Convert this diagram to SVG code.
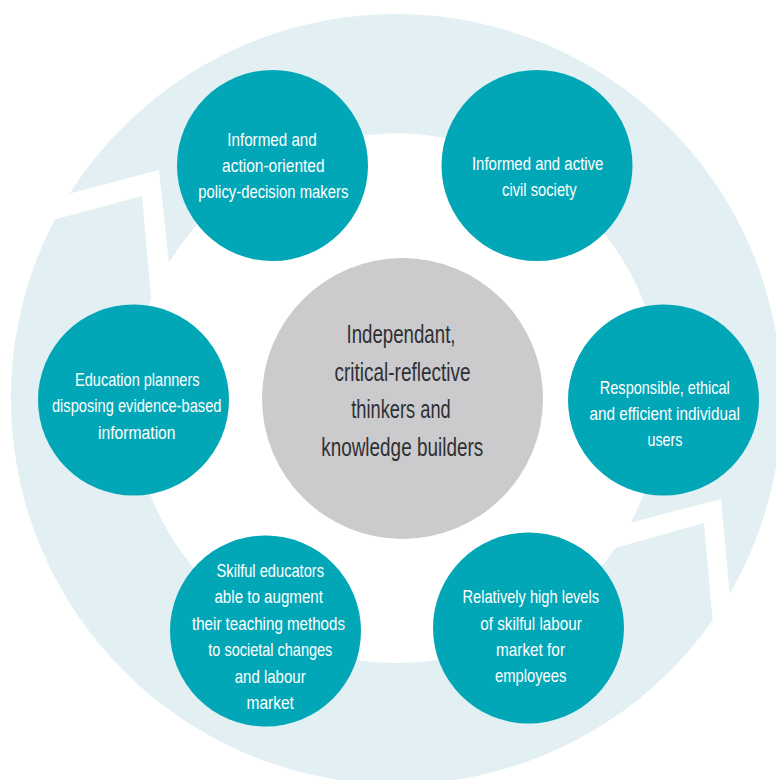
<svg xmlns="http://www.w3.org/2000/svg" width="776" height="780" viewBox="0 0 776 780">
  <style>
    .ring { fill: #e2eff3; }
    .node { fill: #02a7b7; }
    .hub { fill: #cbcbcd; }
    .nt { font-family: "Liberation Sans", Arial, sans-serif; font-size: 19px; fill: #ffffff; text-anchor: middle; }
    .ct { font-family: "Liberation Sans", Arial, sans-serif; font-size: 26px; fill: #2f3033; text-anchor: middle; }
  </style>
  <rect width="776" height="780" fill="#ffffff"/>
  <g id="connectors">
    <path class="ring" d="M 69.7,193.5 A 386 386 0 0 1 729.7,593.7 L 721,499 L 631,522.4 A 265 265 0 0 0 169,263 L 159,170 Z"/>
    <path class="ring" d="M 712.6,620.3 A 386 386 0 0 1 54.8,219.4 L 142,196 L 151.1,299.2 A 265 265 0 0 0 615.6,547.8 L 704,523 Z"/>
  </g>
  <g id="hub">
    <circle class="hub" cx="402.5" cy="398.5" r="140.5"/>
    <text class="ct" x="401" y="343" textLength="109" lengthAdjust="spacingAndGlyphs">Independant,</text>
    <text class="ct" x="402.5" y="380.5" textLength="136" lengthAdjust="spacingAndGlyphs">critical-reflective</text>
    <text class="ct" x="401" y="418" textLength="99.5" lengthAdjust="spacingAndGlyphs">thinkers and</text>
    <text class="ct" x="402.2" y="455.5" textLength="162" lengthAdjust="spacingAndGlyphs">knowledge builders</text>
  </g>
  <g id="node-policy">
    <circle class="node" cx="272.5" cy="165.5" r="95.5"/>
    <text class="nt" x="272" y="146" textLength="89.5" lengthAdjust="spacingAndGlyphs">Informed and</text>
    <text class="nt" x="273.3" y="172" textLength="102.5" lengthAdjust="spacingAndGlyphs">action-oriented</text>
    <text class="nt" x="273.3" y="198" textLength="150" lengthAdjust="spacingAndGlyphs">policy-decision makers</text>
  </g>
  <g id="node-civil">
    <circle class="node" cx="537" cy="165.5" r="95.5"/>
    <text class="nt" x="537.7" y="169.5" textLength="131.5" lengthAdjust="spacingAndGlyphs">Informed and active</text>
    <text class="nt" x="539.3" y="196" textLength="74.5" lengthAdjust="spacingAndGlyphs">civil society</text>
  </g>
  <g id="node-users">
    <circle class="node" cx="663.5" cy="400" r="95.5"/>
    <text class="nt" x="664.8" y="393.5" textLength="130" lengthAdjust="spacingAndGlyphs">Responsible, ethical</text>
    <text class="nt" x="664.7" y="419.5" textLength="150.5" lengthAdjust="spacingAndGlyphs">and efficient individual</text>
    <text class="nt" x="665" y="445.5" textLength="35" lengthAdjust="spacingAndGlyphs">users</text>
  </g>
  <g id="node-labour">
    <circle class="node" cx="528.5" cy="628" r="95.5"/>
    <text class="nt" x="530.8" y="602.5" textLength="136.5" lengthAdjust="spacingAndGlyphs">Relatively high levels</text>
    <text class="nt" x="531" y="629.5" textLength="101.5" lengthAdjust="spacingAndGlyphs">of skilful labour</text>
    <text class="nt" x="530.5" y="656" textLength="69" lengthAdjust="spacingAndGlyphs">market for</text>
    <text class="nt" x="530.7" y="682" textLength="71.5" lengthAdjust="spacingAndGlyphs">employees</text>
  </g>
  <g id="node-educators">
    <circle class="node" cx="265.5" cy="631" r="95.5"/>
    <text class="nt" x="270.3" y="577" textLength="107.5" lengthAdjust="spacingAndGlyphs">Skilful educators</text>
    <text class="nt" x="268.7" y="603" textLength="108.5" lengthAdjust="spacingAndGlyphs">able to augment</text>
    <text class="nt" x="268.5" y="629.5" textLength="153" lengthAdjust="spacingAndGlyphs">their teaching methods</text>
    <text class="nt" x="270.3" y="656" textLength="124" lengthAdjust="spacingAndGlyphs">to societal changes</text>
    <text class="nt" x="270.2" y="683" textLength="71" lengthAdjust="spacingAndGlyphs">and labour</text>
    <text class="nt" x="270.2" y="708.5" textLength="47.5" lengthAdjust="spacingAndGlyphs">market</text>
  </g>
  <g id="node-planners">
    <circle class="node" cx="133.5" cy="400" r="95.5"/>
    <text class="nt" x="137.3" y="386" textLength="124.5" lengthAdjust="spacingAndGlyphs">Education planners</text>
    <text class="nt" x="136.7" y="412" textLength="169.5" lengthAdjust="spacingAndGlyphs">disposing evidence-based</text>
    <text class="nt" x="136.8" y="438.5" textLength="77.5" lengthAdjust="spacingAndGlyphs">information</text>
  </g>
</svg>
